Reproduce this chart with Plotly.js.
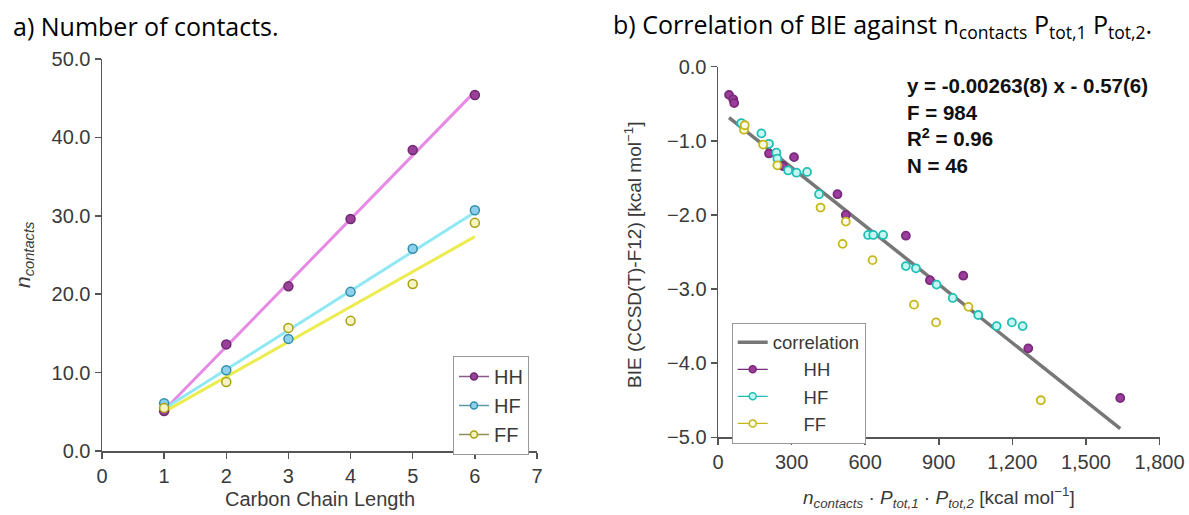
<!DOCTYPE html>
<html>
<head>
<meta charset="utf-8">
<script src="https://cdn.plot.ly/plotly-3.0.1.min.js"></script>
<style>html,body{margin:0;padding:0;background:#fff;}#chart{width:1189px;height:515px;}</style>
</head>
<body>
<div id="chart"></div>
<script>
// ---- Panel a) data ----
const carbonLength = [1, 2, 3, 4, 5, 6];
const hhContacts = [5.1, 13.6, 21.0, 29.6, 38.4, 45.4];
const hfContacts = [6.1, 10.3, 14.3, 20.3, 25.8, 30.7];
const ffContacts = [5.5, 8.8, 15.7, 16.6, 21.3, 29.1];

// ---- Panel b) data ----
const hhX = [45, 62, 66, 208, 265, 310, 487, 521, 766, 864, 1000, 1265, 1640];
const hhBIE = [-0.38, -0.44, -0.49, -1.17, -1.34, -1.22, -1.72, -2.00, -2.28, -2.88, -2.82, -3.80, -4.47];
const hfX = [95, 177, 208, 238, 242, 286, 320, 363, 412, 612, 633, 673, 766, 807, 891, 957, 1061, 1136, 1198, 1242];
const hfBIE = [-0.76, -0.90, -1.04, -1.16, -1.24, -1.40, -1.43, -1.42, -1.72, -2.27, -2.27, -2.27, -2.69, -2.72, -2.94, -3.12, -3.35, -3.50, -3.45, -3.50];
const ffX = [106, 109, 184, 242, 418, 508, 521, 630, 799, 889, 1021, 1316];
const ffBIE = [-0.85, -0.79, -1.05, -1.33, -1.90, -2.39, -2.09, -2.61, -3.21, -3.45, -3.24, -4.50];

// Fit reported on the chart
const fitSlope = -0.00263;
const fitIntercept = -0.57;

// Tick labels
const xTicksA = [0, 1, 2, 3, 4, 5, 6, 7];
const yTicksA = [0, 10, 20, 30, 40, 50];
const xTicksB = [0, 300, 600, 900, 1200, 1500, 1800];
const yTicksB = [0, -1, -2, -3, -4, -5];

// least-squares line through a series
function lsq(x, y) {
  const n = x.length;
  const mx = x.reduce((a, b) => a + b, 0) / n;
  const my = y.reduce((a, b) => a + b, 0) / n;
  let sxy = 0, sxx = 0;
  for (let i = 0; i < n; i++) { sxy += (x[i] - mx) * (y[i] - my); sxx += (x[i] - mx) ** 2; }
  const b = sxy / sxx, a = my - b * mx;
  const xs = [Math.min(...x), Math.max(...x)];
  return { x: xs, y: xs.map(v => a + b * v) };
}

const FONT = 'Liberation Sans, Arial, sans-serif';
const TXT = '#3a3a3a';

const colA = {
  HH: { line: '#e68ae6', mk: '#9a3f9a', mkl: '#6e2a6e', leg: '#8a5a8a' },
  HF: { line: '#90e8f4', mk: '#8fd0ee', mkl: '#2f8fa8', leg: '#5a9aa5' },
  FF: { line: '#ecec50', mk: '#f5f3c0', mkl: '#a8a010', leg: '#8f8f55' }
};

const traces = [];
const seriesA = [['HH', hhContacts], ['HF', hfContacts], ['FF', ffContacts]];
seriesA.forEach(([name, ys]) => {
  const f = lsq(carbonLength, ys);
  traces.push({ x: f.x, y: f.y, mode: 'lines', xaxis: 'x', yaxis: 'y', showlegend: false,
    line: { color: colA[name].line, width: 3 }, hoverinfo: 'skip' });
});
seriesA.forEach(([name, ys]) => {
  traces.push({ x: carbonLength, y: ys, mode: 'markers', xaxis: 'x', yaxis: 'y', showlegend: false,
    marker: { symbol: 'circle', size: 9, color: colA[name].mk, line: { color: colA[name].mkl, width: 1.5 } } });
});
seriesA.forEach(([name]) => {
  traces.push({ x: [null], y: [null], mode: 'lines+markers', xaxis: 'x', yaxis: 'y', name: name, legend: 'legend',
    line: { color: colA[name].leg, width: 1.5 },
    marker: { symbol: 'circle', size: 7, color: colA[name].mk, line: { color: colA[name].mkl, width: 1.5 } } });
});

// Panel b
const colB = {
  HH: { mk: '#9c3c9c', mkl: '#7a2a7a' },
  HF: { mk: '#c8f6f2', mkl: '#1fbfb4' },
  FF: { mk: '#fbfbe8', mkl: '#c4b81c' }
};
const allX = hhX.concat(hfX, ffX);
const corrX = [Math.min(...allX), Math.max(...allX)];
traces.push({ x: corrX, y: corrX.map(v => fitSlope * v + fitIntercept), mode: 'lines', xaxis: 'x2', yaxis: 'y2',
  name: 'correlation', legend: 'legend2', line: { color: '#777777', width: 3.5 } });
const pad = '\u00a0\u00a0\u00a0\u00a0\u00a0\u00a0';
[['HH', hhX, hhBIE], ['HF', hfX, hfBIE], ['FF', ffX, ffBIE]].forEach(([name, xs, ys]) => {
  traces.push({ x: xs, y: ys, mode: 'markers', xaxis: 'x2', yaxis: 'y2', showlegend: false,
    marker: { symbol: 'circle', size: 8, color: colB[name].mk, line: { color: colB[name].mkl, width: 1.8 } } });
});
['HH', 'HF', 'FF'].forEach(name => {
  traces.push({ x: [null], y: [null], mode: 'lines+markers', xaxis: 'x2', yaxis: 'y2', name: pad + name, legend: 'legend2',
    line: { color: colB[name].mkl, width: 1.2 },
    marker: { symbol: 'circle', size: 7, color: colB[name].mk, line: { color: colB[name].mkl, width: 1.5 } } });
});

const axisBase = {
  showline: true, linecolor: '#555', linewidth: 1.5, ticks: 'outside', ticklen: 6, tickwidth: 1.5, tickcolor: '#555',
  showgrid: false, zeroline: false, tickfont: { family: FONT, size: 20, color: TXT }, fixedrange: true
};

const W = 1189, H = 515;
const px = v => v / W, py = v => 1 - v / H;

const layout = {
  width: W, height: H,
  margin: { l: 0, r: 0, t: 0, b: 0 },
  paper_bgcolor: '#fff', plot_bgcolor: '#fff',
  showlegend: true,
  xaxis: Object.assign({}, axisBase, { domain: [px(102), px(537)], range: [0, 7], tickvals: xTicksA, anchor: 'y' }),
  yaxis: Object.assign({}, axisBase, { domain: [py(451), py(59)], range: [0, 50], tickvals: yTicksA, tickformat: '.1f', anchor: 'x' }),
  xaxis2: Object.assign({}, axisBase, { domain: [px(718), px(1159.5)], range: [0, 1800], tickvals: xTicksB, tickformat: ',d', anchor: 'y2' }),
  yaxis2: Object.assign({}, axisBase, { domain: [py(437.3), py(66.7)], range: [-5, 0], tickvals: yTicksB, tickformat: '.1f', anchor: 'x2' }),
  legend: { x: px(453), y: py(356), xanchor: 'left', yanchor: 'top', bgcolor: '#fff', bordercolor: '#999', borderwidth: 1,
    font: { family: FONT, size: 20, color: TXT }, itemwidth: 30, tracegroupgap: 0 },
  legend2: { x: px(731.7), y: py(322.7), xanchor: 'left', yanchor: 'top', bgcolor: '#fff', bordercolor: '#999', borderwidth: 1,
    font: { family: FONT, size: 18.5, color: TXT }, itemwidth: 30, tracegroupgap: 0 },
  annotations: [
    { text: 'a) Number of contacts.', x: px(11), y: py(26), xref: 'paper', yref: 'paper', xanchor: 'left', yanchor: 'middle',
      showarrow: false, font: { family: 'Open Sans, Noto Sans, sans-serif', size: 25, color: '#000' } },
    { text: 'b) Correlation of BIE against n<sub>contacts</sub> P<sub>tot,1</sub> P<sub>tot,2</sub>.', x: px(611), y: py(26),
      xref: 'paper', yref: 'paper', xanchor: 'left', yanchor: 'middle',
      showarrow: false, font: { family: 'Open Sans, Noto Sans, sans-serif', size: 25, color: '#000' } },
    { text: 'Carbon Chain Length', x: px(320), y: py(499), xref: 'paper', yref: 'paper', xanchor: 'center', yanchor: 'middle',
      showarrow: false, font: { family: FONT, size: 20, color: TXT } },
    { text: '<i>n</i><sub><i>contacts</i></sub>', x: px(24), y: py(255), xref: 'paper', yref: 'paper', xanchor: 'center', yanchor: 'middle',
      textangle: -90, showarrow: false, font: { family: FONT, size: 21, color: TXT } },
    { text: '<i>n</i><sub><i>contacts</i></sub> · <i>P</i><sub><i>tot,1</i></sub> · <i>P</i><sub><i>tot,2</i></sub> [kcal mol<sup>−1</sup>]',
      x: px(939), y: py(497), xref: 'paper', yref: 'paper', xanchor: 'center', yanchor: 'middle',
      showarrow: false, font: { family: FONT, size: 19, color: TXT } },
    { text: 'BIE (CCSD(T)-F12) [kcal mol<sup>−1</sup>]', x: px(633), y: py(255), xref: 'paper', yref: 'paper', xanchor: 'center', yanchor: 'middle',
      textangle: -90, showarrow: false, font: { family: FONT, size: 19, color: TXT } },
    { text: '<b>y = -0.00263(8) x - 0.57(6)</b><br><b>F = 984</b><br><b>R<sup>2</sup> = 0.96</b><br><b>N = 46</b>',
      x: px(905), y: py(72), xref: 'paper', yref: 'paper', xanchor: 'left', yanchor: 'top', align: 'left',
      showarrow: false, font: { family: FONT, size: 20.5, color: '#111' } }
  ]
};

Plotly.newPlot('chart', traces, layout, { displayModeBar: false, staticPlot: true });
</script>
</body>
</html>
